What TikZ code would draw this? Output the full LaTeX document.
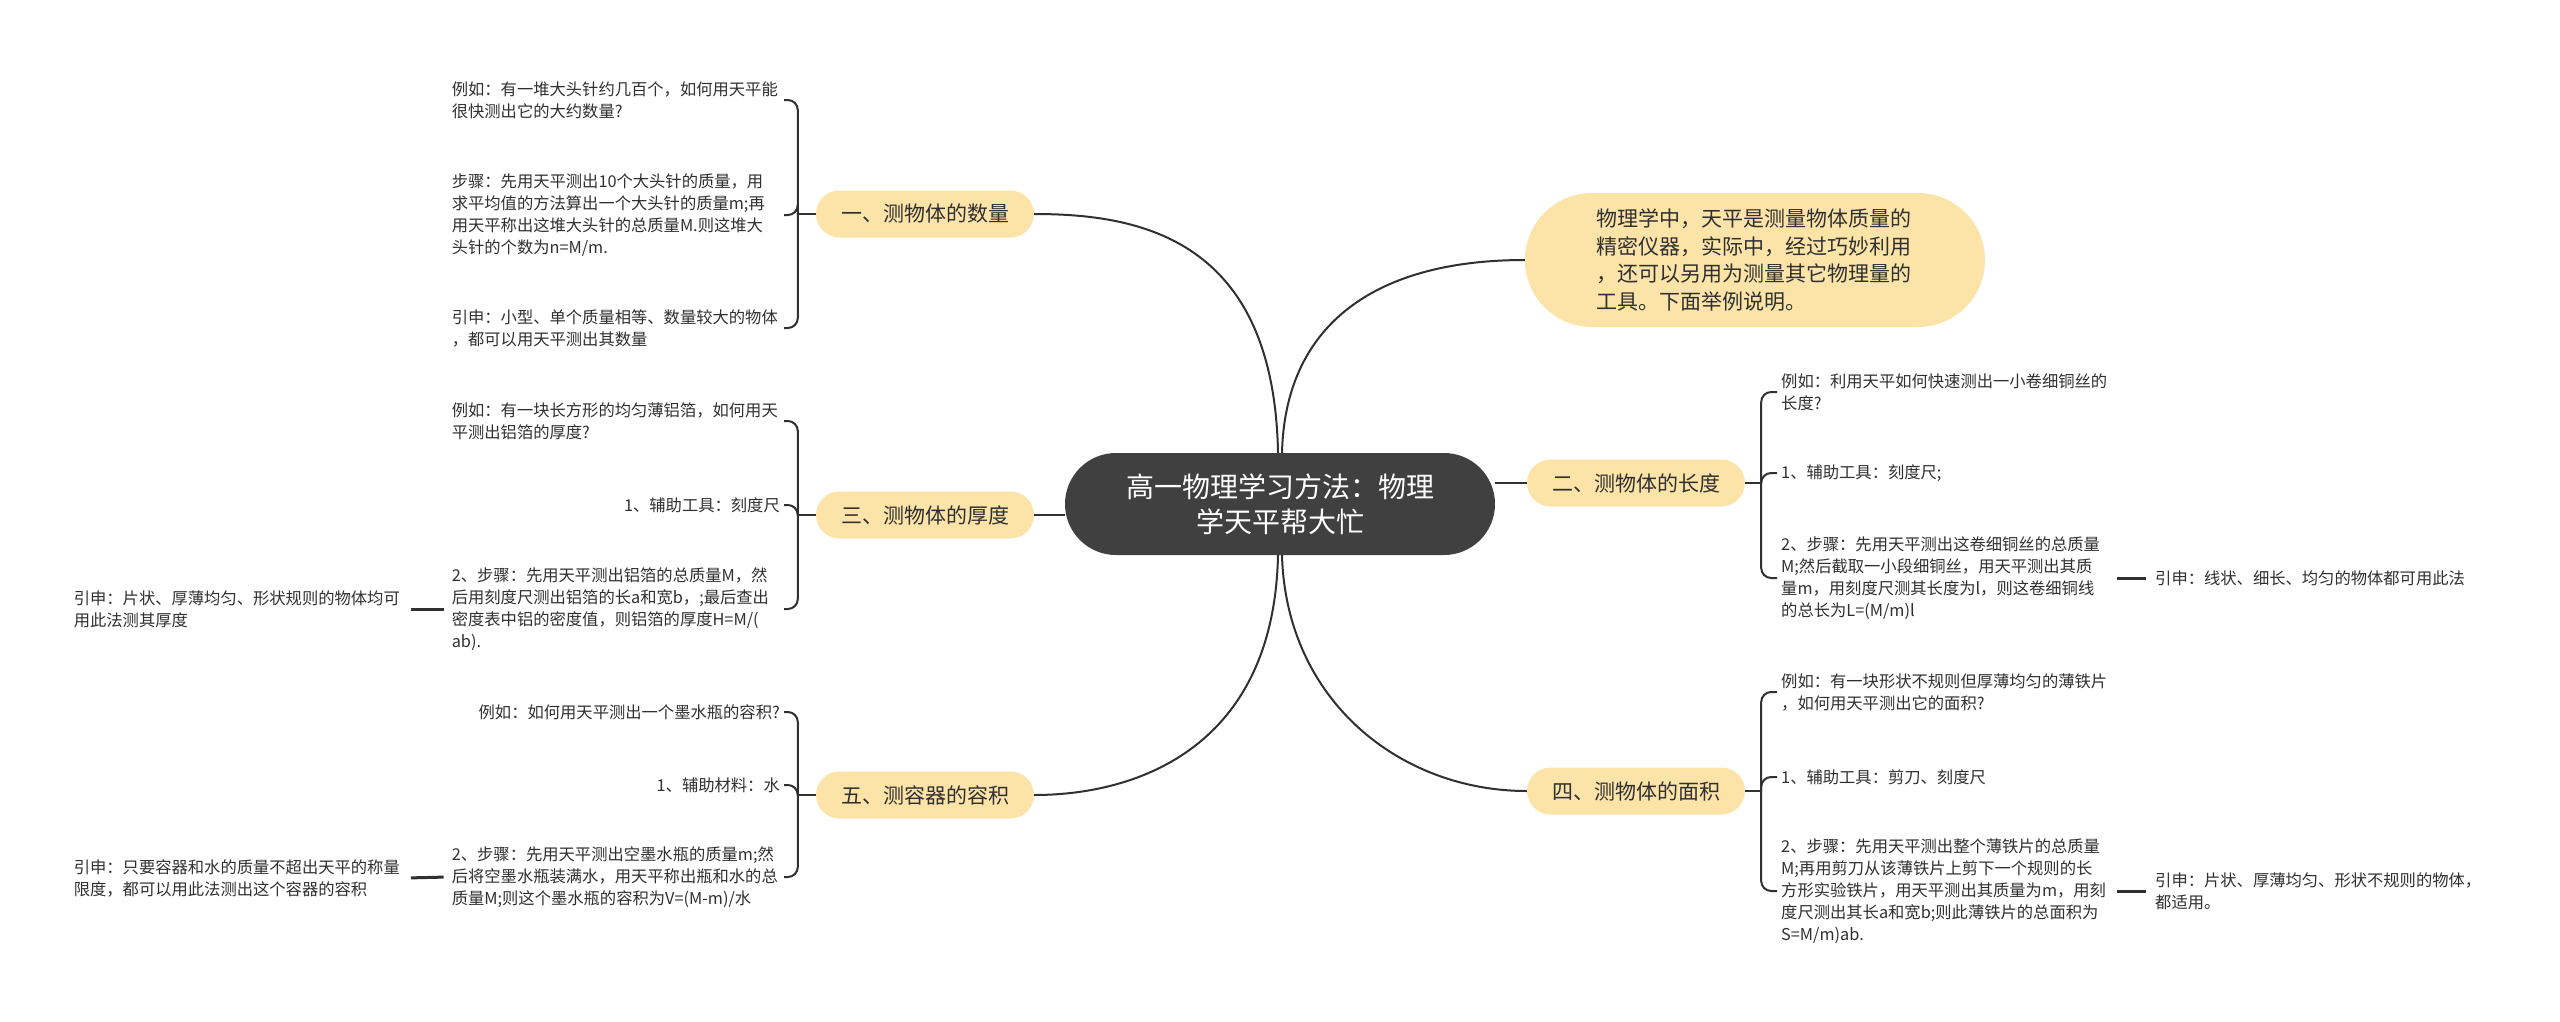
\documentclass[tikz,border=0pt]{standalone}
\usepackage{fontspec}
\setmainfont{Noto Sans CJK SC}
\definecolor{pillc}{HTML}{FCE4A9}
\definecolor{ink}{HTML}{303030}
\definecolor{darkc}{HTML}{404040}
\begin{document}
\begin{tikzpicture}[x=1pt,y=-1pt,
  pill/.style={fill=pillc, rounded corners=23.5pt, minimum width=218pt, minimum height=47pt,
    font=\fontsize{21pt}{26pt}\selectfont, text=ink, inner sep=0pt},
  centernode/.style={fill=darkc, rounded corners=51pt, minimum width=430pt, minimum height=102pt,
    font=\fontsize{28pt}{35pt}\selectfont, text=white, align=center, inner sep=0pt},
  bubble/.style={fill=pillc, rounded corners=67pt, minimum width=460pt, minimum height=134pt,
    font=\fontsize{21pt}{27.5pt}\selectfont, text=ink, text width=318pt, align=left, inner sep=0pt},
  leaf/.style={font=\fontsize{16.3pt}{22pt}\selectfont, text=ink, inner sep=4pt, align=left},
  multi/.style={leaf, text width=328pt},
  conn/.style={draw=ink, line width=2pt},
  brk/.style={draw=ink, line width=2pt, rounded corners=10pt},
  stub/.style={draw=ink, line width=3pt, shorten <=4pt, shorten >=5pt}
]
\fill[white] (0,0) rectangle (2560,1021);
\useasboundingbox (0,0) rectangle (2560,1021);

% centre
\node[centernode] (ct) at (1280,504) {高一物理学习方法：物理\\学天平帮大忙};
\node[bubble] (intro) at (1755,260) {物理学中，天平是测量物体质量的\\精密仪器，实际中，经过巧妙利用\\，还可以另用为测量其它物理量的\\工具。下面举例说明。};

% main branches
\node[pill] (p1) at (925,214) {一、测物体的数量};
\node[pill] (p3) at (925,515) {三、测物体的厚度};
\node[pill] (p5) at (925,795) {五、测容器的容积};
\node[pill] (p2) at (1636,483) {二、测物体的长度};
\node[pill] (p4) at (1636,791) {四、测物体的面积};

% group 1
\node[multi, anchor=east] (a1) at (784,100) {例如：有一堆大头针约几百个，如何用天平能\\很快测出它的大约数量?};
\node[multi, anchor=east] (a2) at (784,215) {步骤：先用天平测出10个大头针的质量，用\\求平均值的方法算出一个大头针的质量m;再\\用天平称出这堆大头针的总质量M.则这堆大\\头针的个数为n=M/m.};
\node[multi, anchor=east] (a3) at (784,328) {引申：小型、单个质量相等、数量较大的物体\\，都可以用天平测出其数量};

% group 3
\node[multi, anchor=east] (c1) at (784,421) {例如：有一块长方形的均匀薄铝箔，如何用天\\平测出铝箔的厚度?};
\node[leaf, anchor=east] (c2) at (784,505) {1、辅助工具：刻度尺};
\node[multi, anchor=east] (c3) at (784,609) {2、步骤：先用天平测出铝箔的总质量M，然\\后用刻度尺测出铝箔的长a和宽b，;最后查出\\密度表中铝的密度值，则铝箔的厚度H=M/(\\ab).};
\node[multi, anchor=east] (cg) at (406,609) {引申：片状、厚薄均匀、形状规则的物体均可\\用此法测其厚度};

% group 5
\node[leaf, anchor=east] (e1) at (784,712) {例如：如何用天平测出一个墨水瓶的容积?};
\node[leaf, anchor=east] (e2) at (784,785) {1、辅助材料：水};
\node[multi, anchor=east] (e3) at (784,877) {2、步骤：先用天平测出空墨水瓶的质量m;然\\后将空墨水瓶装满水，用天平称出瓶和水的总\\质量M;则这个墨水瓶的容积为V=(M-m)/水};
\node[multi, anchor=east] (eg) at (406,878) {引申：只要容器和水的质量不超出天平的称量\\限度，都可以用此法测出这个容器的容积};

% group 2
\node[multi, anchor=west] (b1) at (1777,392) {例如：利用天平如何快速测出一小卷细铜丝的\\长度?};
\node[leaf, anchor=west] (b2) at (1777,473) {1、辅助工具：刻度尺;};
\node[multi, anchor=west] (b3) at (1777,578) {2、步骤：先用天平测出这卷细铜丝的总质量\\M;然后截取一小段细铜丝，用天平测出其质\\量m，用刻度尺测其长度为l，则这卷细铜线\\的总长为L=(M/m)l};
\node[leaf, anchor=west] (bg) at (2151,578) {引申：线状、细长、均匀的物体都可用此法};

% group 4
\node[multi, anchor=west] (d1) at (1777,692) {例如：有一块形状不规则但厚薄均匀的薄铁片\\，如何用天平测出它的面积?};
\node[leaf, anchor=west] (d2) at (1777,777) {1、辅助工具：剪刀、刻度尺};
\node[multi, anchor=west] (d3) at (1777,891) {2、步骤：先用天平测出整个薄铁片的总质量\\M;再用剪刀从该薄铁片上剪下一个规则的长\\方形实验铁片，用天平测出其质量为m，用刻\\度尺测出其长a和宽b;则此薄铁片的总面积为\\S=M/m)ab.};
\node[multi, anchor=west] (dg) at (2151,891) {引申：片状、厚薄均匀、形状不规则的物体，\\都适用。};

% centre connectors
\draw[conn] ([xshift=-2pt]ct.north) .. controls +(-4,-214) and +(106,0) .. (p1.east);
\draw[conn] ([xshift=2pt]ct.north) .. controls +(3,-124) and +(-155,0) .. (intro.west);
\draw[conn] ([xshift=-2pt]ct.south) .. controls +(-4,190) and +(106,0) .. (p5.east);
\draw[conn] ([xshift=2pt]ct.south) .. controls +(4,145) and +(-127,0) .. (p4.west);
\draw[conn] (p3.east) -- (p3.east -| ct.west);
\draw[conn] (p2.west) -- (p2.west -| ct.east);

% brackets left
\draw[conn] (p1.west) -- ++(-18,0) coordinate (j1);
\draw[brk] (j1) |- (a1.east);
\draw[brk] (j1) |- (a2.east);
\draw[brk] (j1) |- (a3.east);
\draw[conn] (p3.west) -- ++(-18,0) coordinate (j3);
\draw[brk] (j3) |- (c1.east);
\draw[brk] (j3) |- (c2.east);
\draw[brk] (j3) |- (c3.east);
\draw[conn] (p5.west) -- ++(-18,0) coordinate (j5);
\draw[brk] (j5) |- (e1.east);
\draw[brk] (j5) |- (e2.east);
\draw[brk] (j5) |- (e3.east);

% brackets right
\draw[conn] (p2.east) -- ++(16,0) coordinate (j2);
\draw[brk] (j2) |- (b1.west);
\draw[brk] (j2) |- (b2.west);
\draw[brk] (j2) |- (b3.west);
\draw[conn] (p4.east) -- ++(16,0) coordinate (j4);
\draw[brk] (j4) |- (d1.west);
\draw[brk] (j4) |- (d2.west);
\draw[brk] (j4) |- (d3.west);

% grandchild stubs
\draw[stub] (c3.west) -- (cg.east);
\draw[stub] (e3.west) -- (eg.east);
\draw[stub] (b3.east) -- (bg.west);
\draw[stub] (d3.east) -- (dg.west);
\end{tikzpicture}
\end{document}
